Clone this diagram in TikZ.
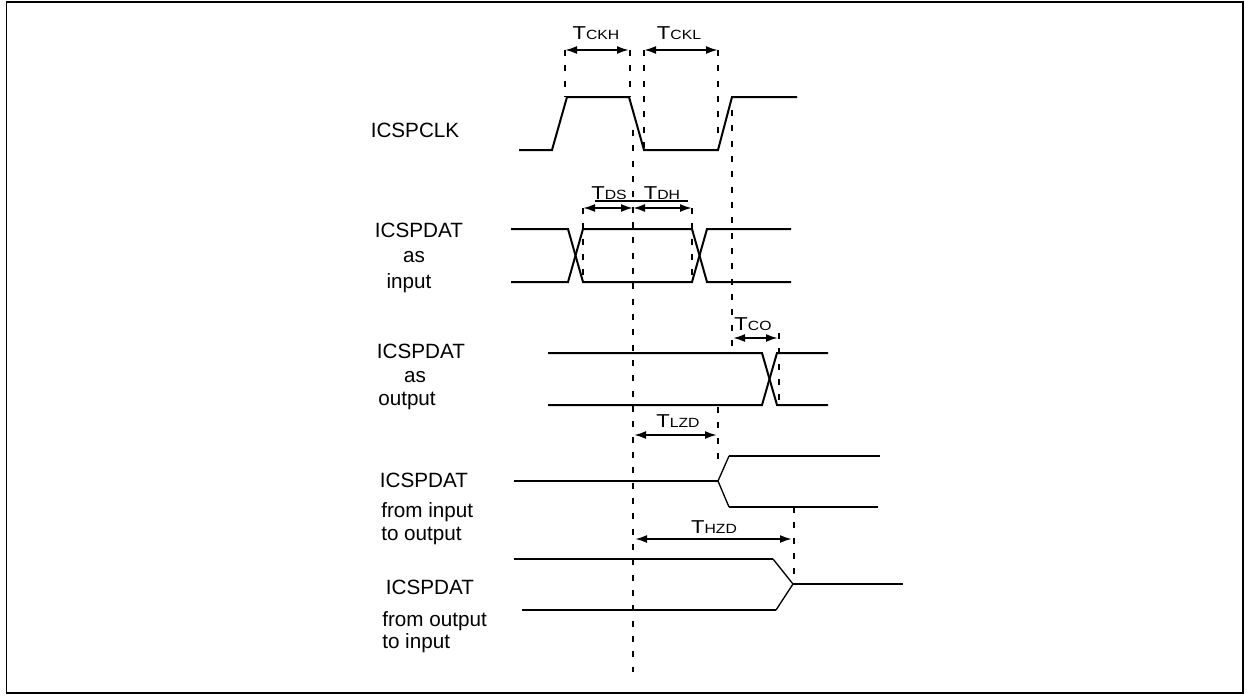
\documentclass[tikz,border=0pt]{standalone}
\usepackage{fontspec}
\usepackage{graphicx}
\setmainfont{Liberation Sans}
\usetikzlibrary{arrows.meta}
\newcommand\mytlab[2]{\scalebox{1.18}[1]{\fontsize{14}{16}\selectfont #1\fontsize{10}{12}\selectfont #2}}
\begin{document}
\begin{tikzpicture}[x=0.75pt,y=-0.75pt,
  wave/.style={line width=1.5pt, line join=miter},
  thinwave/.style={line width=1pt},
  guide/.style={line width=1.5pt, dash pattern=on 4.5pt off 7pt},
  dim/.style={line width=1.5pt, {Latex[length=9pt,width=6pt]}-{Latex[length=9pt,width=6pt]}},
  lbl/.style={font=\fontsize{15.5}{18}\selectfont, inner sep=0pt, anchor=base},
  lbll/.style={lbl, anchor=base west},
  tm/.style={inner sep=0pt, anchor=base}]
\useasboundingbox (0,0) rectangle (1246,696);
\draw[line width=1.1pt] (6.5,2) rectangle (1243,693);

% ---- signal names ----
\node[lbl] (clk) at (415,137) {ICSPCLK};
\node[lbl] (din) at (419,237) {ICSPDAT};
\node[lbl] (dinas) at (414,262) {as};
\node[lbl] (dinin) at (409,288) {input};
\node[lbl] (dout) at (421,358) {ICSPDAT};
\node[lbl] (doutas) at (415,382) {as};
\node[lbl] (doutout) at (407,405) {output};
\node[lbl] (dio) at (424,487) {ICSPDAT};
\node[lbll] (dioa) at (381,517) {from input};
\node[lbll] (diob) at (381,540) {to output};
\node[lbl] (doi) at (430,594) {ICSPDAT};
\node[lbll] (doia) at (382,626) {from output};
\node[lbll] (doib) at (382,648) {to input};

% ---- waveforms ----
\draw[wave] (519,150) -- (552,150) -- (567,97) -- (629,97) -- (644,150) -- (718,150) -- (732,97) -- (797,97);

\draw[wave] (511,229) -- (568,229) -- (583,282) -- (692,282) -- (707,229) -- (791,229);
\draw[wave] (511,282) -- (568,282) -- (583,229) -- (692,229) -- (707,282) -- (791,282);

\draw[wave] (548,353) -- (762,353) -- (777,405) -- (828,405);
\draw[wave] (548,405) -- (762,405) -- (777,353) -- (828,353);

\draw[wave] (514,481) -- (718,481);
\draw[thinwave] (718,481) -- (729,456);
\draw[thinwave] (718,481) -- (729,507);
\draw[wave] (729,456) -- (880,456);
\draw[wave] (729,507) -- (878,507);

\draw[wave] (514,559) -- (773,559);
\draw[thinwave] (773,559) -- (793,584) -- (776,610);
\draw[wave] (522,610) -- (776,610);
\draw[wave] (793,584) -- (903,584);

% ---- guide lines ----
\coordinate (g1t) at (565,50);  \coordinate (g1b) at (565,97);
\coordinate (g2t) at (630,50);  \coordinate (g2b) at (630,97);
\coordinate (g3t) at (644,50);  \coordinate (g3b) at (644,148);
\coordinate (g4t) at (718,50);  \coordinate (g4b) at (718,135);
\coordinate (g5t) at (633,130); \coordinate (g5b) at (633,672);
\coordinate (g6t) at (732,110); \coordinate (g6b) at (732,353);
\coordinate (g7t) at (583,208); \coordinate (g7b) at (583,283);
\coordinate (g8t) at (692,208); \coordinate (g8b) at (692,283);
\coordinate (g9t) at (779,333); \coordinate (g9b) at (779,407);
\coordinate (g10t) at (718,407); \coordinate (g10b) at (718,462);
\coordinate (g11t) at (794,507); \coordinate (g11b) at (794,585);
\foreach \i in {1,...,11} \draw[guide] (g\i t) -- (g\i b);

% ---- dimension arrows ----
\coordinate (ckhA) at (565,50); \coordinate (ckhB) at (629,50);
\coordinate (cklA) at (644,50); \coordinate (cklB) at (718,50);
\coordinate (dsA) at (583,208); \coordinate (dsB) at (633,208);
\coordinate (dhA) at (633,208); \coordinate (dhB) at (692,208);
\coordinate (coA) at (733,338); \coordinate (coB) at (778,338);
\coordinate (lzA) at (634,435); \coordinate (lzB) at (717,435);
\coordinate (hzA) at (635,539); \coordinate (hzB) at (792,539);
\draw[dim] (ckhA) -- (ckhB);
\draw[dim] (cklA) -- (cklB);
\draw[dim] (dsA) -- (dsB);
\draw[dim] (dhA) -- (dhB);
\draw[dim] (coA) -- (coB);
\draw[dim] (lzA) -- (lzB);
\draw[dim] (hzA) -- (hzB);
\coordinate (ulA) at (595,201); \coordinate (ulB) at (688,201);
\draw[line width=1pt] (ulA) -- (ulB);

% ---- timing labels ----
\node[tm] (tckh) at (596,39) {\mytlab{T}{CKH}};
\node[tm] (tckl) at (679,39) {\mytlab{T}{CKL}};
\node[tm] (tds) at (609,199) {\mytlab{T}{DS}};
\node[tm] (tdh) at (662,199) {\mytlab{T}{DH}};
\node[tm] (tco) at (753,330) {\mytlab{T}{CO}};
\node[tm] (tlzd) at (678,427) {\mytlab{T}{LZD}};
\node[tm] (thzd) at (714,533) {\mytlab{T}{HZD}};
\end{tikzpicture}
\end{document}
